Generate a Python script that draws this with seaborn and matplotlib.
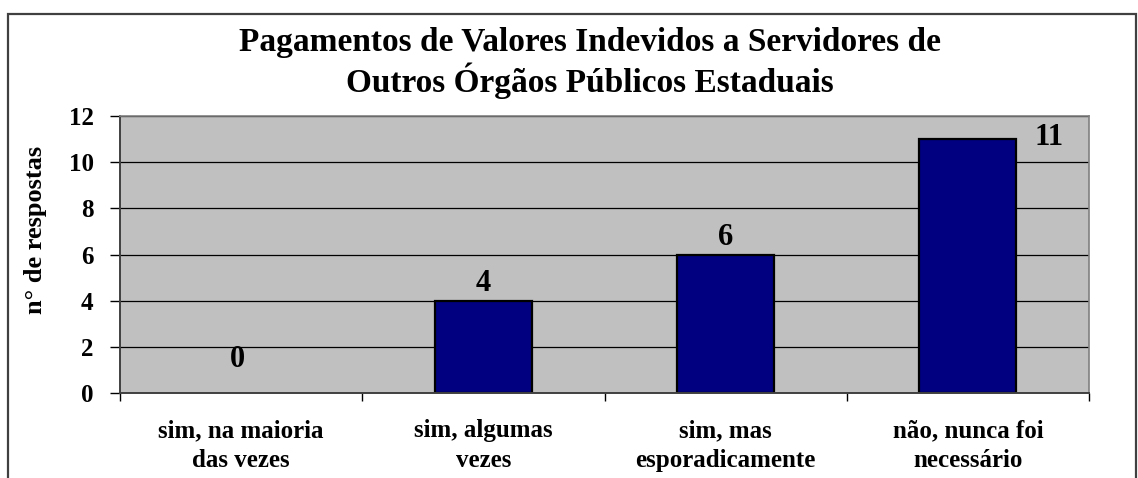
import matplotlib.pyplot as plt
import pandas as pd
import seaborn as sns
from matplotlib.patches import Rectangle

categories = [
    "sim, na maioria\ndas vezes",
    "sim, algumas\nvezes",
    "sim, mas\nesporadicamente",
    "não, nunca foi\nnecessário",
]
respostas = [0, 4, 6, 11]
y_ticks = [0, 2, 4, 6, 8, 10, 12]

title = "Pagamentos de Valores Indevidos a Servidores de\nOutros Órgãos Públicos Estaduais"
y_label = "n° de respostas"

df = pd.DataFrame({"categoria": categories, "respostas": respostas})

sns.set_style("white")
plt.rcParams["font.family"] = ["Liberation Serif", "DejaVu Serif"]
plt.rcParams["font.weight"] = "bold"
plt.rcParams["text.color"] = "black"
plt.rcParams["axes.labelcolor"] = "black"
plt.rcParams["xtick.color"] = "black"
plt.rcParams["ytick.color"] = "black"

fig = plt.figure(figsize=(11.38, 4.78), dpi=100)
ax = fig.add_axes([120 / 1138, 1 - 393 / 478, 969 / 1138, 277 / 478])

# outer chart border, bottom edge is cut off in the original
fig.patches.append(
    Rectangle((8 / 1138, -0.1), 1128 / 1138, 1.1 - 14 / 478, transform=fig.transFigure,
              fill=False, edgecolor="#404040", linewidth=1.6, zorder=0)
)

ax.set_facecolor("#C0C0C0")
ax.set_axisbelow(True)
ax.yaxis.grid(True, color="black", linewidth=0.9)

sns.barplot(data=df, x="categoria", y="respostas", color="#000080",
            width=0.4, edgecolor="black", linewidth=1.6, saturation=1, ax=ax)
for bar in ax.patches:
    if bar.get_height() == 0:
        bar.set_linewidth(0)

ax.set_xlim(-0.5, 3.5)
ax.set_ylim(0, 12)
ax.set_yticks(y_ticks)
ax.set_yticklabels([str(t) for t in y_ticks], fontsize=18, fontweight="bold")
ax.tick_params(axis="y", direction="out", length=7, width=1, color="black", pad=12, left=True)

ax.set_xticks(range(len(categories)))
ax.set_xticklabels(categories, fontsize=18, fontweight="bold", linespacing=1.35)
ax.set_xticks([i - 0.5 for i in range(len(categories) + 1)], minor=True)
ax.tick_params(axis="x", which="major", length=0, pad=19)
ax.tick_params(axis="x", which="minor", direction="out", length=6, width=1,
               color="black", bottom=True)

ax.set_xlabel("")
ax.set_ylabel(y_label, fontsize=19, fontweight="bold")
ax.yaxis.set_label_coords((36 - 120) / 969, (393 - 230) / 277)
ax.yaxis.label.set_verticalalignment("center")

for side in ["top", "right"]:
    ax.spines[side].set_color("#808080")
    ax.spines[side].set_linewidth(1.2)
for side in ["left", "bottom"]:
    ax.spines[side].set_color("#404040")
    ax.spines[side].set_linewidth(1.4)

top_value = max(respostas)
for i, v in enumerate(respostas):
    if v == top_value:
        ax.annotate(str(v), (i + 0.2, v), xytext=(13, 1.5), textcoords="offset points",
                    ha="left", va="center", fontsize=22, fontweight="bold")
    elif v == 0:
        ax.annotate(str(v), (i, v), xytext=(-3, 14), textcoords="offset points",
                    ha="center", va="bottom", fontsize=22, fontweight="bold")
    else:
        ax.annotate(str(v), (i, v), xytext=(0, 2), textcoords="offset points",
                    ha="center", va="bottom", fontsize=22, fontweight="bold")

fig.text(590 / 1138, 1 - 63 / 478, title, ha="center", va="center",
         fontsize=24, fontweight="bold", linespacing=1.12)

fig.savefig("out.png", dpi=100)
